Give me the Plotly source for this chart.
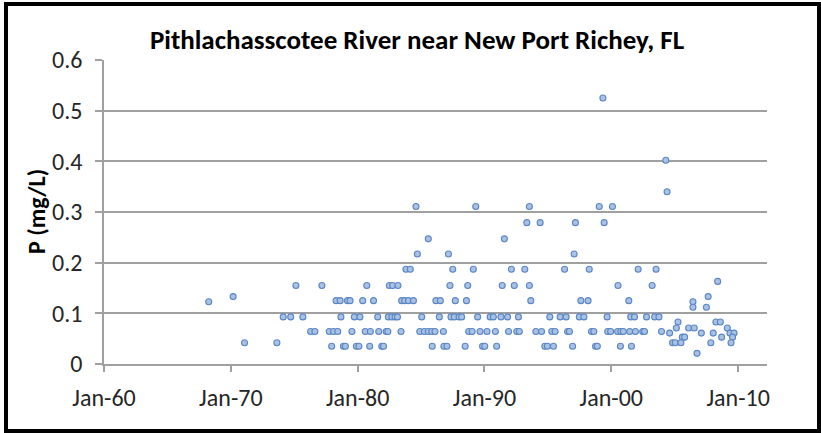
import plotly.graph_objects as go
import pandas as pd

# ---- data (decimal year, P in mg/L) ----
year = [
    1999.34,
    2004.30,
    2004.40,
    1984.60, 1989.31, 1993.54, 1999.05, 2000.09,
    1993.34, 1994.39, 1997.17, 1999.44,
    1985.57, 1991.57,
    1984.71, 1987.16, 1997.07,
    1983.81, 1984.15, 1987.50, 1989.12, 1992.12, 1993.18, 1996.32, 1998.26, 2002.12, 2003.53,
    2008.39,
    1975.13, 1977.18, 1980.72, 1982.50, 1982.76, 1983.18, 1987.28, 1988.68, 1991.40, 1992.35, 1993.54, 2000.53, 2003.22,
    1970.18, 2007.64,
    1978.30, 1978.62, 1979.20, 1979.40, 1980.40, 1981.25, 1983.47, 1983.71, 1984.00, 1984.40, 1986.17, 1986.52, 1987.70, 1988.58, 1993.65, 1997.60, 1998.17, 2001.38,
    1968.26, 2006.44,
    2006.44, 2007.50,
    1974.13, 1974.72, 1975.68, 1978.68, 1979.74, 1980.18, 1981.58, 1982.42, 1982.70, 1982.95, 1983.14, 1985.05, 1986.44, 1987.36, 1987.62, 1988.00, 1988.20, 1989.46, 1990.45, 1990.70, 1991.30, 1991.82, 1992.68, 1995.15, 1995.97, 1996.44, 1997.48, 1997.84, 1999.67, 2001.53, 2001.83, 2002.78, 2003.42, 2003.76,
    2005.26, 2008.25, 2008.60,
    2005.13, 2006.10, 2006.54, 2009.15,
    1976.29, 1976.63, 1977.76, 1978.10, 1978.43, 1979.55, 1980.60, 1981.00, 1981.66, 1982.25, 1982.38, 1983.42, 1984.90, 1985.26, 1985.57, 1985.84, 1986.10, 1986.76, 1988.76, 1989.03, 1989.65, 1990.20, 1990.86, 1991.90, 1992.55, 1992.75, 1994.05, 1994.50, 1995.31, 1995.57, 1996.56, 1996.70, 1998.44, 1998.62, 1999.72, 1999.95, 2000.50, 2000.75, 2000.95, 2001.45, 2001.90, 2002.48, 2002.62, 2003.96,
    2004.60, 2007.10, 2008.04, 2009.36, 2009.68,
    2005.60, 2005.78, 2008.70, 2009.56,
    1971.08, 1973.63, 2004.83, 2005.04, 2005.49, 2007.85, 2009.44,
    1977.95, 1978.88, 1979.03, 1979.90, 1980.10, 1980.95, 1981.90, 1982.04, 1985.88, 1986.80, 1987.04, 1988.48, 1989.85, 1990.02, 1990.96, 1994.76, 1994.96, 1995.44, 1996.95, 1998.76, 1998.90, 2000.72, 2001.59,
    2006.76,
]
p_mg_l = (
    [0.525]
    + [0.402]
    + [0.340]
    + [0.311] * 5
    + [0.279] * 4
    + [0.247] * 2
    + [0.217] * 3
    + [0.187] * 10
    + [0.163]
    + [0.155] * 13
    + [0.133] * 2
    + [0.125] * 18
    + [0.123] * 2
    + [0.112] * 2
    + [0.093] * 34
    + [0.083] * 3
    + [0.071] * 4
    + [0.064] * 44
    + [0.061] * 5
    + [0.053] * 4
    + [0.042] * 7
    + [0.035] * 23
    + [0.021]
)

title_text = "Pithlachasscotee River near New Port Richey, FL"
y_title = "P (mg/L)"
x_range = ["1960-01-01", "2012-04-12"]
y_ticks = [0, 0.1, 0.2, 0.3, 0.4, 0.5, 0.6]


def to_date(y):
    base = pd.Timestamp(int(y), 1, 1)
    return base + pd.Timedelta(days=(y - int(y)) * 365.25)


dates = [to_date(y) for y in year]

W, H = 821, 433
ML, MR, MT, MB = 104, 54, 60, 69
PW = W - ML - MR
PH = H - MT - MB

grid = "#a0a0a0"
txt = "#262626"
font_fam = "Calibri, Carlito, Lato, sans-serif"

fig = go.Figure()
fig.add_trace(go.Scatter(
    x=dates, y=p_mg_l, mode="markers",
    marker=dict(size=6, color="#a9c2e4", line=dict(color="#5a86c6", width=1.1)),
    hoverinfo="x+y", showlegend=False,
))

fig.update_layout(
    width=W, height=H,
    margin=dict(l=ML, r=MR, t=MT, b=MB),
    paper_bgcolor="white", plot_bgcolor="white",
    font=dict(family=font_fam, color=txt, size=24),
    title=dict(text="<b>" + title_text + "</b>", x=417 / W, xref="container", xanchor="center",
               y=1 - 40 / H, yref="container", yanchor="middle",
               font=dict(family=font_fam, size=27, color="#000000")),
    xaxis=dict(
        type="date", range=x_range, dtick="M120", tick0="1960-01-01",
        tickformat="%b-%y", showgrid=False, zeroline=False,
        showline=True, linecolor=grid, linewidth=1.5,
        ticks="outside", ticklen=6, tickcolor=grid, tickwidth=1.5,
        ticklabelstandoff=5,
        tickfont=dict(family=font_fam, size=24, color=txt),
    ),
    yaxis=dict(
        range=[0, 0.6], tickvals=y_ticks, ticktext=[f"{v:g}" for v in y_ticks],
        showgrid=True, gridcolor=grid, gridwidth=1.5, zeroline=False,
        showline=True, linecolor=grid, linewidth=1.5,
        ticks="outside", ticklen=7, tickcolor=grid, tickwidth=1.5,
        ticklabelstandoff=8,
        tickfont=dict(family=font_fam, size=24, color=txt),
    ),
    annotations=[dict(
        text="<b>" + y_title + "</b>", textangle=-90,
        xref="paper", yref="paper", x=(36 - ML) / PW, y=0.5,
        xanchor="center", yanchor="middle", showarrow=False,
        font=dict(family=font_fam, size=24, color="#000000"),
    )],
    shapes=[dict(
        type="rect", xref="paper", yref="paper",
        x0=(6 - ML) / PW, x1=(819 - ML) / PW,
        y0=(H - MB - 431) / PH, y1=(H - MB - 4) / PH,
        line=dict(color="black", width=4), fillcolor="rgba(0,0,0,0)", layer="above",
    )],
)

fig.write_html(
    "out.html",
    config={"displayModeBar": False},
    post_script="document.body.style.margin='0';document.body.style.overflow='hidden';",
)
